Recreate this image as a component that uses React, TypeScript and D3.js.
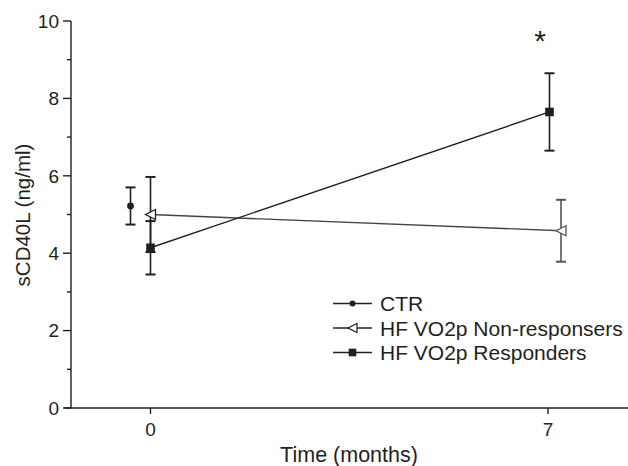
import React from "react";
import * as d3 from "d3";

const times = [0, 7];
const ctrMean = [5.22];
const ctrErr = [0.48];
const nonRespMean = [5.0, 4.58];
const nonRespErr = [0.97, 0.8];
const respMean = [4.14, 7.65];
const respErr = [0.69, 1.0];
const yTicks = [0, 2, 4, 6, 8, 10];
const yMinor = [1, 3, 5, 7, 9];
const xTicks = [0, 7];
const legendLabels = ["CTR", "HF VO2p Non-responsers", "HF VO2p Responders"];

const W = 628, H = 466;
const FONT = "'Liberation Sans', Arial, Helvetica, sans-serif";
const INK = "#231f20";

export default function App() {
  const x = d3.scaleLinear().domain([0, 7]).range([150.5, 548]);
  const y = d3.scaleLinear().domain([0, 10]).range([408, 21]);
  const axisX = 71;
  const xLeft = x(-1.52);
  const xRight = W;

  const capW = 5;
  const errBar = (cx: number, m: number, e: number, key: string, color = INK) => (
    <g key={key} stroke={color} strokeWidth={1.6}>
      <line x1={cx} x2={cx} y1={y(m + e)} y2={y(m - e)} />
      <line x1={cx - capW} x2={cx + capW} y1={y(m + e)} y2={y(m + e)} strokeWidth={2} />
      <line x1={cx - capW} x2={cx + capW} y1={y(m - e)} y2={y(m - e)} strokeWidth={2} />
    </g>
  );
  const tri = (cx: number, cy: number, s = 10) =>
    `M${cx - s / 2},${cy} L${cx + s / 2},${cy - s / 2} L${cx + s / 2},${cy + s / 2} Z`;

  const ctrX = times.slice(0, 1).map((t) => x(t) - 20);
  const nonX = times.map((t, i) => x(t) + (i === 1 ? 13 : 0));
  const respX = times.map((t, i) => x(t) + (i === 1 ? 1.5 : 0));

  const line = d3.line<[number, number]>();
  const nonPts: [number, number][] = nonX.map((xx, i) => [xx, y(nonRespMean[i])]);
  const respPts: [number, number][] = respX.map((xx, i) => [xx, y(respMean[i])]);

  const legY = [303.5, 328, 352.5];
  const legX1 = 333, legX2 = 372, legM = 352.5;

  return (
    <svg width={W} height={H} style={{ position: "absolute", left: 0, top: 0, background: "#fff" }}>
      <rect width={W} height={H} fill="#fff" />
      {/* y axis */}
      <line x1={axisX} x2={axisX} y1={y(10)} y2={y(0)} stroke={INK} strokeWidth={1.4} />
      {yTicks.map((t) => (
        <g key={"yt" + t}>
          <line x1={axisX - 8} x2={axisX} y1={y(t)} y2={y(t)} stroke={INK} strokeWidth={1.4} />
          <text x={axisX - 12} y={y(t)} dy="0.36em" textAnchor="end" fontFamily={FONT} fontSize={19} fill={INK}>
            {t}
          </text>
        </g>
      ))}
      {yMinor.map((t) => (
        <line key={"ym" + t} x1={axisX - 4} x2={axisX} y1={y(t)} y2={y(t)} stroke={INK} strokeWidth={1.4} />
      ))}
      {/* x axis */}
      <line x1={xLeft} x2={xRight} y1={y(0)} y2={y(0)} stroke={INK} strokeWidth={1.4} />
      {xTicks.map((t) => (
        <g key={"xt" + t}>
          <line x1={x(t)} x2={x(t)} y1={y(0)} y2={y(0) + 6} stroke={INK} strokeWidth={1.4} />
          <text x={x(t)} y={435.5} textAnchor="middle" fontFamily={FONT} fontSize={19} fill={INK}>
            {t}
          </text>
        </g>
      ))}
      <text x={349} y={461.5} textAnchor="middle" fontFamily={FONT} fontSize={21.5} fill={INK}>
        Time (months)
      </text>
      <text
        transform={`translate(30,${215}) rotate(-90)`}
        textAnchor="middle"
        fontFamily={FONT}
        fontSize={20.5}
        fill={INK}
      >
        sCD40L (ng/ml)
      </text>

      {/* series lines */}
      <path d={line(nonPts) || ""} fill="none" stroke="#444" strokeWidth={1.4} />
      <path d={line(respPts) || ""} fill="none" stroke={INK} strokeWidth={1.4} />

      {/* error bars */}
      {ctrX.map((cx, i) => errBar(cx, ctrMean[i], ctrErr[i], "ce" + i))}
      {nonX.map((cx, i) => errBar(cx, nonRespMean[i], nonRespErr[i], "ne" + i, i === 1 ? "#555" : INK))}
      {respX.map((cx, i) => errBar(cx, respMean[i], respErr[i], "re" + i))}

      {/* markers */}
      {ctrX.map((cx, i) => (
        <circle key={"cm" + i} cx={cx} cy={y(ctrMean[i])} r={3.4} fill={INK} />
      ))}
      {nonX.map((cx, i) => (
        <path key={"nm" + i} d={tri(cx, y(nonRespMean[i]))} fill="#fff" stroke={i === 1 ? "#555" : INK} strokeWidth={1.3} />
      ))}
      {respX.map((cx, i) => (
        <rect key={"rm" + i} x={cx - 4.3} y={y(respMean[i]) - 4.3} width={8.6} height={8.6} fill={INK} />
      ))}

      {/* significance */}
      <text x={540} y={51} textAnchor="middle" fontFamily={FONT} fontSize={30} fill={INK}>
        *
      </text>

      {/* legend */}
      {legendLabels.map((lab, i) => (
        <g key={"lg" + i}>
          <line x1={legX1} x2={legX2} y1={legY[i]} y2={legY[i]} stroke={INK} strokeWidth={1.4} />
          {i === 0 && <circle cx={legM} cy={legY[i]} r={3} fill={INK} />}
          {i === 1 && <path d={tri(legM, legY[i], 9)} fill="#fff" stroke={INK} strokeWidth={1.2} />}
          {i === 2 && <rect x={legM - 3.8} y={legY[i] - 3.8} width={7.6} height={7.6} fill={INK} />}
          <text x={380} y={legY[i] + 7.5} fontFamily={FONT} fontSize={21} fill={INK}>
            {lab}
          </text>
        </g>
      ))}
    </svg>
  );
}
